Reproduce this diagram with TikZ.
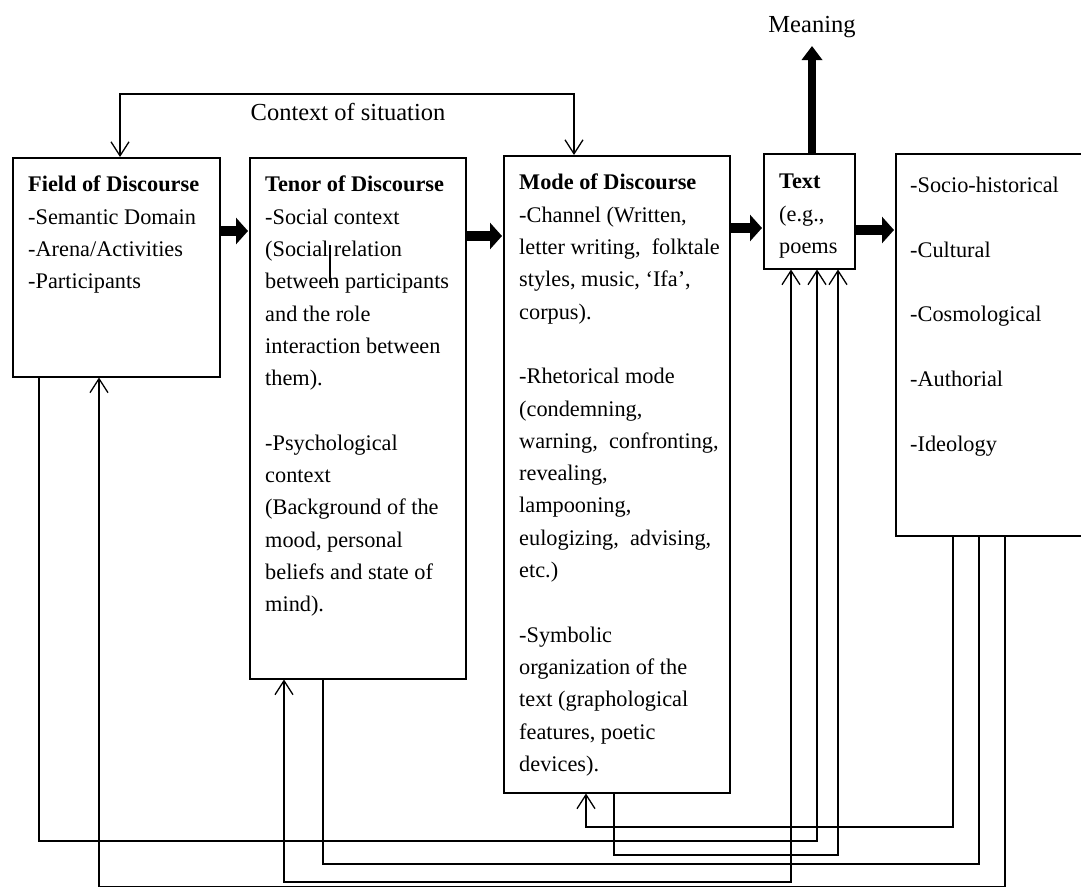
\documentclass[tikz,border=0pt]{standalone}
\usepackage{fontspec}
\setmainfont{Liberation Serif}
\usetikzlibrary{arrows.meta}
\begin{document}
\begin{tikzpicture}[x=1pt,y=-1pt,
  boxs/.style={draw, line width=1.5pt, inner sep=0pt, anchor=north west},
  txt/.style={anchor=north west, inner sep=0pt, align=left, font=\fontsize{22.3}{32.3}\selectfont},
  lbl/.style={inner sep=0pt, font=\fontsize{24.5}{28}\selectfont},
  thin/.style={line width=1.4pt},
  tipb/.style={-{Straight Barb[length=14pt,width=18pt,line width=1.3pt]}},
  tipab/.style={{Straight Barb[length=14pt,width=18pt,line width=1.3pt]}-{Straight Barb[length=14pt,width=18pt,line width=1.3pt]}},
  fat/.style={line width=10pt, -{Triangle[length=12pt,width=26pt]}},
]
\useasboundingbox (0,0) rectangle (1081,886);

% boxes
\node[boxs, minimum width=207pt, minimum height=219pt] (field) at (12,157) {};
\node[boxs, minimum width=216pt, minimum height=521pt] (tenor) at (249,157) {};
\node[boxs, minimum width=226pt, minimum height=637pt] (mode) at (503,155) {};
\node[boxs, minimum width=91pt, minimum height=115pt] (textb) at (763,153) {};
\node[boxs, minimum width=200pt, minimum height=382pt] (right) at (895,153) {};

% texts
\node[txt] (ftxt) at (28,176) {\textbf{Field of Discourse}\\-Semantic Domain\\-Arena/Activities\\-Participants};
\node[txt] (ttxt) at (265,176) {\textbf{Tenor of Discourse}\\-Social context\\(Social relation\\between participants\\and the role\\interaction between\\them).\\[32.3pt]-Psychological\\context\\(Background of the\\mood, personal\\beliefs and state of\\mind).};
\node[txt] (mtxt) at (519,174) {\textbf{Mode of Discourse}\\-Channel (Written,\\letter writing,\ \ folktale\\styles, music,\ ‘Ifa’,\\corpus).\\[32.3pt]-Rhetorical mode\\(condemning,\\warning,\ \ confronting,\\revealing,\\lampooning,\\eulogizing,\ \ advising,\\etc.)\\[32.3pt]-Symbolic\\organization of the\\text (graphological\\features, poetic\\devices).};
\node[txt] (xtxt) at (779,174) {\textbf{Text}\\(e.g.,\\poems};
\node[txt] (rtxt) at (910,177) {-Socio-historical\\[32.3pt]-Cultural\\[32.3pt]-Cosmological\\[32.3pt]-Authorial\\[32.3pt]-Ideology};

% cursor mark
\draw[line width=1.5pt] (330,245) -- (330,283);

% labels
\node[lbl] (meaning) at (812,27) {Meaning};
\node[lbl] (ctx) at (348,112) {Context of situation};

% context line
\coordinate (c1) at (120,94);
\coordinate (c2) at (574,94);
\draw[thin, tipab] (field.north -| c1) -- (c1) -- (c2) -- (mode.north -| c2);

% thick arrows
\coordinate (r1) at (0,231);
\coordinate (r2) at (0,236);
\coordinate (r3) at (0,228);
\coordinate (r4) at (0,230);
\draw[fat] (field.east |- r1) -- ([xshift=-1pt]tenor.west |- r1);
\draw[fat] (tenor.east |- r2) -- ([xshift=-1pt]mode.west |- r2);
\draw[fat] (mode.east |- r3) -- ([xshift=-1pt]textb.west |- r3);
\draw[fat] (textb.east |- r4) -- ([xshift=-1pt]right.west |- r4);
\coordinate (mtip) at (812,46);
\draw[line width=8pt, -{Triangle[length=14pt,width=20pt]}] (textb.north -| mtip) -- (mtip);

% bottom feedback connectors
\coordinate (p1a) at (953,827); \coordinate (p1b) at (586,827);
\draw[thin, tipb] (right.south -| p1a) -- (p1a) -- (p1b) -- (mode.south -| p1b);
\coordinate (p2a) at (979,864); \coordinate (p2b) at (323,864);
\draw[thin] (right.south -| p2a) -- (p2a) -- (p2b) -- (tenor.south -| p2b);
\coordinate (p3a) at (1005,886.3); \coordinate (p3b) at (99,886.3);
\draw[thin, tipb] (right.south -| p3a) -- (p3a) -- (p3b) -- (field.south -| p3b);
\coordinate (p4a) at (39,841); \coordinate (p4b) at (817,841);
\draw[thin, tipb] (field.south -| p4a) -- (p4a) -- (p4b) -- (textb.south -| p4b);
\coordinate (p5a) at (614,855); \coordinate (p5b) at (838,855);
\draw[thin, tipb] (mode.south -| p5a) -- (p5a) -- (p5b) -- (textb.south -| p5b);
\coordinate (p6a) at (284,882); \coordinate (p6b) at (791,882);
\draw[thin, tipab] (tenor.south -| p6a) -- (p6a) -- (p6b) -- (textb.south -| p6b);
\end{tikzpicture}
\end{document}
